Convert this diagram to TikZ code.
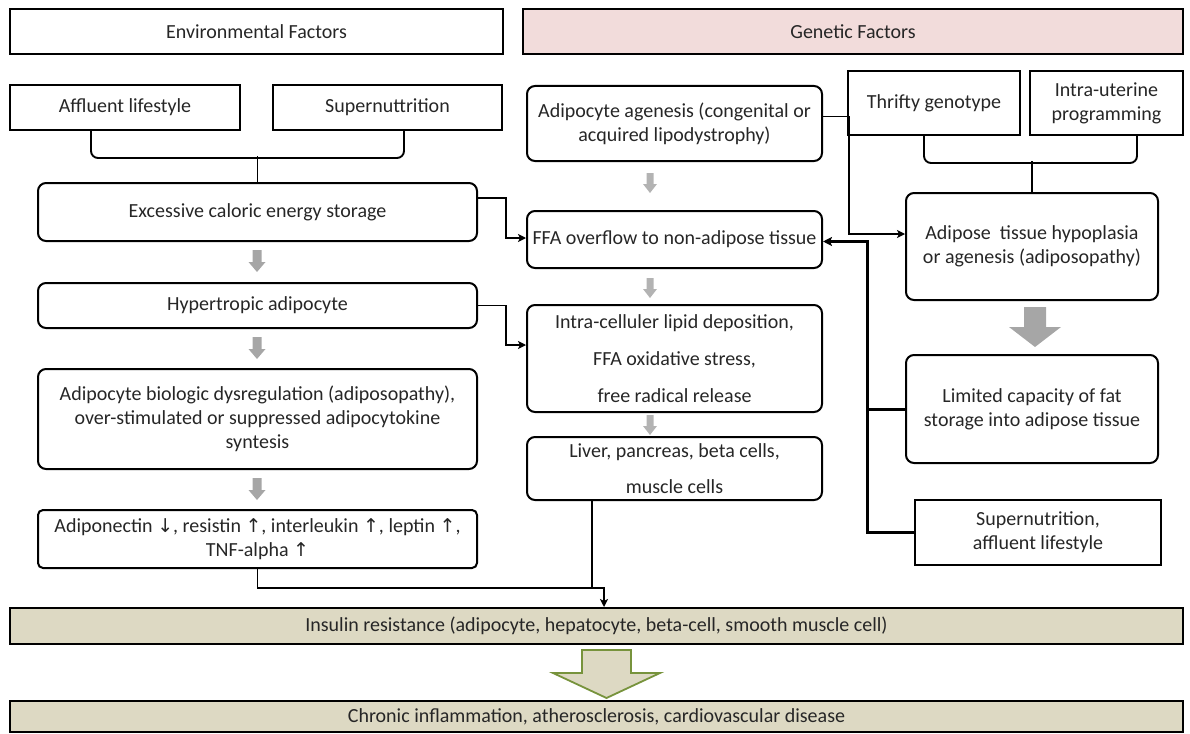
\documentclass[tikz,border=0pt]{standalone}
\usepackage{fontspec}
\setmainfont{Carlito}
\newfontfamily\symfont{DejaVu Sans}
\usetikzlibrary{arrows.meta,calc}
\definecolor{pinkfill}{HTML}{F2DCDB}
\definecolor{tanfill}{HTML}{DDD9C3}
\definecolor{greenline}{HTML}{77933C}
\definecolor{grayarrow}{HTML}{A6A6A6}
\newcommand{\up}{{\symfont\fontsize{19}{19}\selectfont↑}}
\newcommand{\dn}{{\symfont\fontsize{19}{19}\selectfont↓}}
\begin{document}
\begin{tikzpicture}[x=1pt,y=-1pt,
  box/.style={draw, line width=2pt, inner sep=0pt, align=center, font=\fontsize{20}{24}\selectfont, text=black!85},
  rbox/.style={box, rounded corners=8pt},
  tanbox/.style={draw, line width=2pt, inner sep=0pt, fill=tanfill, font=\fontsize{20}{24}\selectfont, text=black!85},
  conn/.style={line width=1.9pt, -{Stealth[length=8pt,width=8pt,inset=2pt]}},
  plain/.style={line width=1.9pt},
  thick conn/.style={line width=3pt},
  sarrow/.pic={\fill[grayarrow] (-4.5,0) -- (4.5,0) -- (4.5,12) -- (8.5,12) -- (0,22) -- (-8.5,12) -- (-4.5,12) -- cycle;},
  marrow/.pic={\fill[grayarrow!85] (-3.5,0) -- (3.5,0) -- (3.5,11) -- (7,11) -- (0,20) -- (-7,11) -- (-3.5,11) -- cycle;},
  barrow/.pic={\fill[grayarrow] (-11,0) -- (11,0) -- (11,20) -- (26,20) -- (0,40) -- (-26,20) -- (-11,20) -- cycle;},
  harrow/.pic={\draw[greenline, fill=tanfill, line width=1.8pt, line join=miter] (-24.5,0) -- (24.5,0) -- (24.5,23) -- (53.5,23) -- (0,48) -- (-53.5,23) -- (-24.5,23) -- cycle;}
]
\useasboundingbox (0,0) rectangle (1190,733);

% headers
\node[box, minimum width=493, minimum height=45] (env) at (256.5,31.5) {Environmental Factors};
\node[box, fill=pinkfill, minimum width=660, minimum height=45] (gen) at (853,31.5) {Genetic Factors};

% left column
\node[box, minimum width=230, minimum height=45] (aff) at (125,107.5) {Affluent lifestyle};
\node[box, minimum width=229, minimum height=45] (sup) at (387.5,107.5) {Supernuttrition};
\node[rbox, minimum width=439, minimum height=58] (exc) at (257.5,212) {Excessive caloric energy storage};
\node[rbox, minimum width=439, minimum height=45] (hyp) at (257.5,305.5) {Hypertropic adipocyte};
\node[rbox, minimum width=439, minimum height=100] (bio) at (257.5,419) {Adipocyte biologic dysregulation (adiposopathy),\\ over-stimulated or suppressed adipocytokine\\ syntesis};
\node[rbox, rounded corners=5pt, minimum width=439, minimum height=58] (adn) at (257.5,539) {Adiponectin \dn, resistin \up, interleukin \up, leptin \up,\\ TNF-alpha \up};

% middle column
\node[rbox, minimum width=295, minimum height=75] (age) at (674.5,123.5) {Adipocyte agenesis (congenital or\\ acquired lipodystrophy)};
\node[rbox, minimum width=295, minimum height=57] (ffa) at (674.5,239.5) {FFA overflow to non-adipose tissue};
\node[rbox, minimum width=295, minimum height=107] (intra) at (674.5,358.5) {Intra-celluler lipid deposition,\\[13pt] FFA oxidative stress,\\[13pt] free radical release};
\node[rbox, minimum width=295, minimum height=63] (liv) at (674.5,468.5) {Liver, pancreas, beta cells,\\[12pt] muscle cells};

% right column
\node[box, minimum width=172, minimum height=64] (thr) at (934,103) {Thrifty genotype};
\node[box, minimum width=153, minimum height=64] (utr) at (1106.5,103) {Intra-uterine\\ programming};
\node[rbox, minimum width=252, minimum height=107] (hypo) at (1032,246.5) {Adipose\ \ tissue hypoplasia\\ or agenesis (adiposopathy)};
\node[rbox, minimum width=252, minimum height=108] (lim) at (1032,409) {Limited capacity of fat\\ storage into adipose tissue};
\node[box, minimum width=246, minimum height=65] (sup2) at (1038,532.5) {Supernutrition,\\ affluent lifestyle};

% bottom
\node[tanbox, minimum width=1173, minimum height=36] (ins) at (596.5,626) {Insulin resistance (adipocyte, hepatocyte, beta-cell, smooth muscle cell)};
\node[tanbox, minimum width=1173, minimum height=31] (chr) at (596.5,716.5) {Chronic inflammation, atherosclerosis, cardiovascular disease};

% gray block arrows
\pic at (257,250) {sarrow};
\pic at (257,337) {sarrow};
\pic at (257,478) {sarrow};
\pic at (650,173) {marrow};
\pic at (650,278) {marrow};
\pic at (650,415) {marrow};
\pic at (1035,307) {barrow};
\pic at (606.5,650) {harrow};

% braces
\coordinate (bl) at ($(aff.south west)+(82,0)$);
\coordinate (br) at ($(sup.south west)+(132,0)$);
\coordinate (bm) at (exc.north);
\draw[plain, rounded corners=7pt] (bl) -- ++(0,27) -| (br);
\draw[plain] (bm) -- ++(0,-26);
\coordinate (rl) at ($(thr.south west)+(77,0)$);
\coordinate (rr) at ($(utr.south west)+(108,0)$);
\draw[plain, rounded corners=7pt] (rl) -- ++(0,27) -| (rr);
\draw[plain] (hypo.north) -- ++(0,-31);

% connectors
\coordinate (e1) at ($(exc.east)+(0,-14)$);
\coordinate (f1) at ($(ffa.west)+(0,-1.5)$);
\draw[conn] (e1) -- ++(28,0) |- (f1);
\coordinate (i1) at ($(intra.west)+(0,-13.5)$);
\draw[conn] (hyp.east) -- ++(28,0) |- (i1);
\coordinate (a1) at ($(age.east)+(0,-7)$);
\coordinate (h1) at ($(hypo.west)+(0,-12.5)$);
\draw[conn] (a1) -- ++(26,0) |- (h1);

\coordinate (f2) at ($(ffa.east)+(0,2)$);
\coordinate (vx) at ($(sup2.west)+(-47,0)$);
\draw[thick conn, -{Stealth[length=9pt,width=9pt,inset=2pt]}] (sup2.west) -- (vx) |- (f2);
\draw[thick conn] (lim.west) -- (lim.west -| vx);

\coordinate (j1) at ($(adn.south)+(0,19)$);
\coordinate (jx) at ($(ins.north)+(7.5,0)$);
\draw[conn] (adn.south) -- (j1) -- (j1 -| jx) -- (jx);
\coordinate (l1) at ($(liv.south west)+(66,0)$);
\draw[plain] (l1) -- (l1 |- j1);
\end{tikzpicture}
\end{document}
